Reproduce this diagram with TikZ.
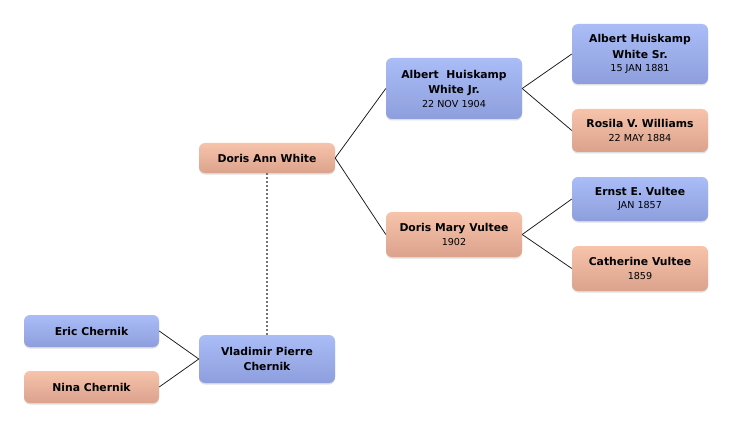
\documentclass[tikz,border=0pt]{standalone}
\usepackage{fontspec}
\setmainfont{DejaVu Sans}
\usetikzlibrary{shadows}
\definecolor{bluetop}{HTML}{AABDF7}
\definecolor{bluebot}{HTML}{8E9EDD}
\definecolor{saltop}{HTML}{F7C3AB}
\definecolor{salbot}{HTML}{DBA28C}
\tikzset{
  person/.style={rounded corners=6pt, minimum width=136pt, align=center,
    inner sep=1pt, font=\fontsize{10.8}{15.5}\selectfont\bfseries,
    drop shadow={opacity=0.25, shadow xshift=0pt, shadow yshift=-1.5pt}},
  male/.style={person, top color=bluetop, bottom color=bluebot},
  female/.style={person, top color=saltop, bottom color=salbot},
  link/.style={draw=black!90, line width=0.75pt}
}
\newcommand{\dt}[1]{\\[-2pt]{\fontsize{9.6}{11}\selectfont\mdseries #1}}
\begin{document}
\begin{tikzpicture}[x=1pt,y=-1pt]
\useasboundingbox[fill=white] (0,0) rectangle (732,428);
\node[male, minimum height=61pt] (ajr) at (454,88.5) {Albert\ \ Huiskamp\\White Jr.\dt{22 NOV 1904}};
\node[male, minimum height=60pt] (asr) at (640,54) {Albert Huiskamp\\White Sr.\dt{15 JAN 1881}};
\node[female, minimum height=43pt] (rvw) at (640,130.5) {Rosila V. Williams\dt{22 MAY 1884}};
\node[female, minimum height=30pt] (daw) at (267,158) {Doris Ann White};
\node[female, minimum height=45pt] (dmv) at (454,234.5) {Doris Mary Vultee\dt{1902}};
\node[male, minimum height=44pt] (eev) at (640,199) {Ernst E. Vultee\dt{JAN 1857}};
\node[female, minimum height=45pt] (cv) at (640,268.5) {Catherine Vultee\dt{1859}};
\node[male, minimum width=135pt, minimum height=32pt] (ec) at (91.5,331) {Eric Chernik};
\node[female, minimum width=135pt, minimum height=32pt] (nc) at (91.5,387) {Nina Chernik};
\node[male, minimum height=48pt] (vpc) at (267,359) {Vladimir Pierre\\Chernik};
\draw[draw=black!55, line width=1.6pt, dash pattern=on 2pt off 2pt] (daw.south) -- (vpc.north);
\draw[link] (daw.east) -- (ajr.west);
\draw[link] (daw.east) -- (dmv.west);
\draw[link] (ajr.east) -- (asr.west);
\draw[link] (ajr.east) -- (rvw.west);
\draw[link] (dmv.east) -- (eev.west);
\draw[link] (dmv.east) -- (cv.west);
\draw[link] (ec.east) -- (vpc.west);
\draw[link] (nc.east) -- (vpc.west);
\end{tikzpicture}
\end{document}
